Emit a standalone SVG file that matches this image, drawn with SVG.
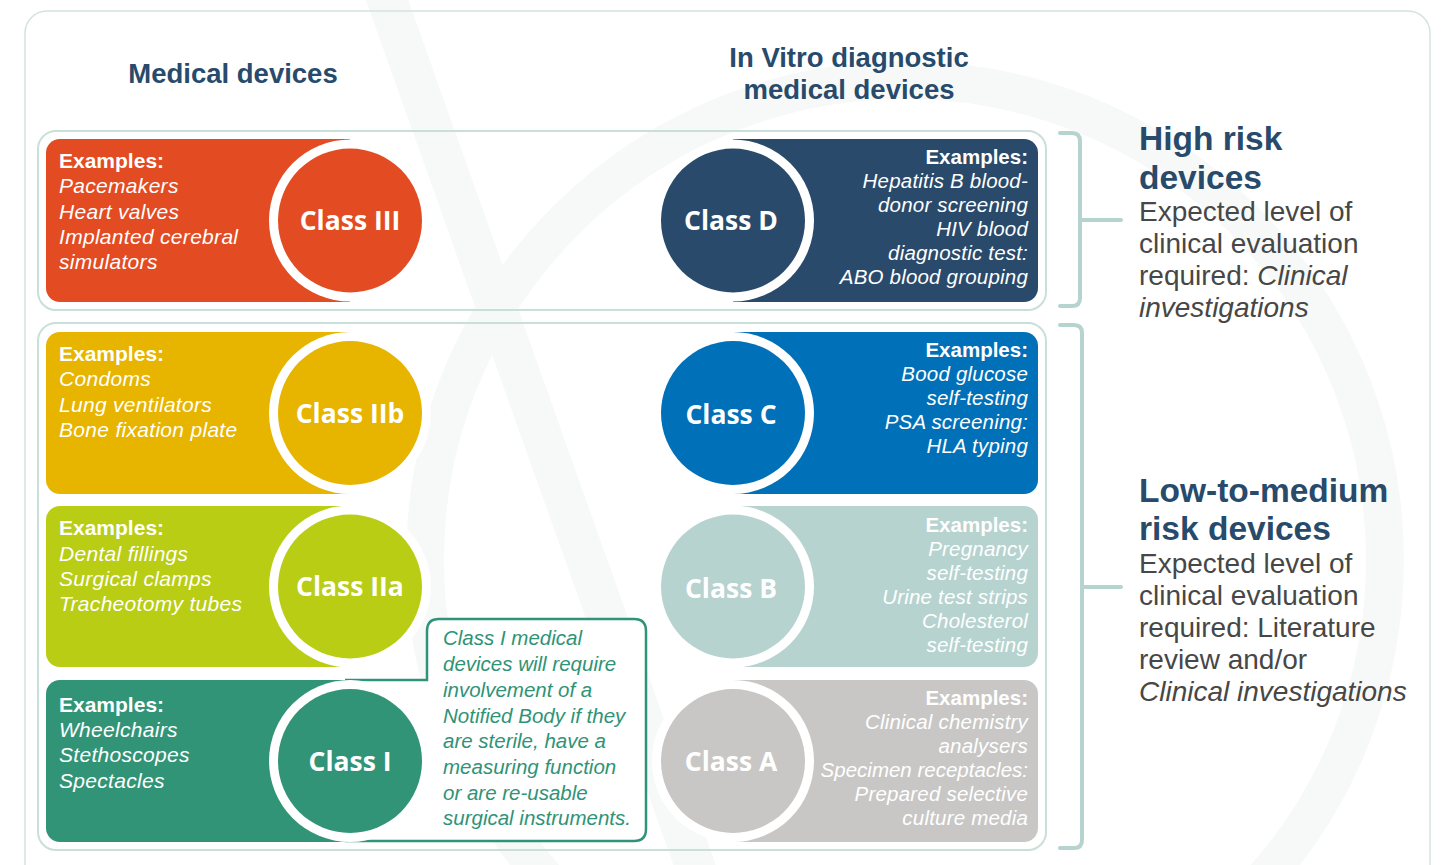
<svg xmlns="http://www.w3.org/2000/svg" width="1442" height="865" viewBox="0 0 1442 865">
<style>
.hdr{font-family:"Liberation Sans",Arial,sans-serif;font-weight:700;fill:#284a6b;font-size:27.5px}
.big{font-family:"Liberation Sans",Arial,sans-serif;font-weight:700;fill:#284a6b;font-size:33.5px}
.desc{font-family:"Liberation Sans",Arial,sans-serif;fill:#474747;font-size:28px}
.it{font-style:italic}
.ex{font-family:"Liberation Sans",Arial,sans-serif;fill:#ffffff;font-size:21px;letter-spacing:0.3px}
.exr{font-family:"Liberation Sans",Arial,sans-serif;fill:#ffffff;font-size:20.5px;letter-spacing:0.2px;text-anchor:end}
.exb{font-weight:700;letter-spacing:0}
.exi{font-style:italic}
.ls0{letter-spacing:0}
.cls{font-family:"Open Sans","Liberation Sans",sans-serif;font-weight:700;fill:#ffffff;font-size:26.5px;text-anchor:middle}
.ring{fill:#ffffff}
.grp{fill:none;stroke:#c9dfda;stroke-width:2}
.brk{fill:none;stroke:#b7d3cf;stroke-width:4;stroke-linecap:round;stroke-linejoin:round}
.note{font-family:"Liberation Sans",Arial,sans-serif;font-style:italic;fill:#2f9377;font-size:20.5px}
.wm{fill:none;stroke:#f7f9f8}
</style>
<rect x="0" y="0" width="1442" height="865" fill="#ffffff"/>
<g id="watermark">
<path class="wm" d="M380 -20 L700 880" stroke-width="40"/>
<circle class="wm" cx="905" cy="560" r="480" stroke-width="38"/>
</g>
<rect x="25" y="11" width="1405" height="880" rx="22" fill="none" stroke="#d3e3de" stroke-width="1.5"/>
<g id="headers">
<text class="hdr" x="233" y="83" text-anchor="middle">Medical devices</text>
<text class="hdr" x="849" y="67" text-anchor="middle">In Vitro diagnostic</text>
<text class="hdr" x="849" y="99" text-anchor="middle">medical devices</text>
</g>
<g id="groups">
<rect class="grp" x="38" y="131" width="1008" height="179" rx="18"/>
<rect class="grp" x="38" y="323" width="1008" height="527" rx="18"/>
</g>
<g id="connectors">
<path class="brk" d="M1060 133 H1072 Q1080 133 1080 141 V298 Q1080 306 1072 306 H1060 M1080 220 H1121"/>
<path class="brk" d="M1060 325 H1074 Q1082 325 1082 333 V840 Q1082 848 1074 848 H1060 M1082 587 H1121"/>
</g>
<g id="callout">
<path d="M345 680 H427 V631 Q427 619 439 619 H634 Q646 619 646 631 V829 Q646 841 634 841 H345" fill="#ffffff" stroke="#2f9377" stroke-width="2.5"/>
<text class="note"><tspan x="443" y="645">Class I medical</tspan><tspan x="443" y="671">devices will require</tspan><tspan x="443" y="697">involvement of a</tspan><tspan x="443" y="723">Notified Body if they</tspan><tspan x="443" y="748">are sterile, have a</tspan><tspan x="443" y="774">measuring function</tspan><tspan x="443" y="800">or are re-usable</tspan><tspan x="443" y="825">surgical instruments.</tspan></text>
</g>
<g id="class-iii">
<path d="M60 139 H350 V302 H60 A14 14 0 0 1 46 288 V153 A14 14 0 0 1 60 139 Z" fill="#e34b22"/>
<circle class="ring" cx="350" cy="220.5" r="81"/>
<circle cx="350" cy="220.5" r="72" fill="#e34b22"/>
<text class="cls" x="350" y="230">Class III</text>
<text class="ex"><tspan x="59" y="168" class="exb">Examples:</tspan><tspan x="59" y="193" class="exi">Pacemakers</tspan><tspan x="59" y="219" class="exi">Heart valves</tspan><tspan x="59" y="244" class="exi">Implanted cerebral</tspan><tspan x="59" y="269" class="exi">simulators</tspan></text>
</g>
<g id="class-iib">
<path d="M60 332 H350 V494 H60 A14 14 0 0 1 46 480 V346 A14 14 0 0 1 60 332 Z" fill="#e7b400"/>
<circle class="ring" cx="350" cy="413" r="81"/>
<circle cx="350" cy="413" r="72" fill="#e7b400"/>
<text class="cls" x="350" y="422.5">Class IIb</text>
<text class="ex"><tspan x="59" y="361" class="exb">Examples:</tspan><tspan x="59" y="386" class="exi">Condoms</tspan><tspan x="59" y="412" class="exi">Lung ventilators</tspan><tspan x="59" y="437" class="exi">Bone fixation plate</tspan></text>
</g>
<g id="class-iia">
<path d="M60 506 H350 V667 H60 A14 14 0 0 1 46 653 V520 A14 14 0 0 1 60 506 Z" fill="#b8cd14"/>
<circle class="ring" cx="350" cy="586.5" r="81"/>
<circle cx="350" cy="586.5" r="72" fill="#b8cd14"/>
<text class="cls" x="350" y="596">Class IIa</text>
<text class="ex"><tspan x="59" y="535" class="exb">Examples:</tspan><tspan x="59" y="561" class="exi">Dental fillings</tspan><tspan x="59" y="586" class="exi">Surgical clamps</tspan><tspan x="59" y="611" class="exi">Tracheotomy tubes</tspan></text>
</g>
<g id="class-i">
<path d="M60 680 H350 V842 H60 A14 14 0 0 1 46 828 V694 A14 14 0 0 1 60 680 Z" fill="#329477"/>
<circle class="ring" cx="350" cy="761" r="81"/>
<circle cx="350" cy="761" r="72" fill="#329477"/>
<text class="cls" x="350" y="770.5">Class I</text>
<text class="ex"><tspan x="59" y="712" class="exb">Examples:</tspan><tspan x="59" y="737" class="exi">Wheelchairs</tspan><tspan x="59" y="762" class="exi">Stethoscopes</tspan><tspan x="59" y="788" class="exi">Spectacles</tspan></text>
</g>
<g id="class-d">
<path d="M733 139 H1024 A14 14 0 0 1 1038 153 V288 A14 14 0 0 1 1024 302 H733 Z" fill="#294a6b"/>
<circle class="ring" cx="733" cy="220.5" r="81"/>
<circle cx="733" cy="220.5" r="72" fill="#294a6b"/>
<text class="cls" x="731" y="230">Class D</text>
<text class="exr"><tspan x="1028" y="164" class="exb">Examples:</tspan><tspan x="1028" y="188" class="exi">Hepatitis B blood-</tspan><tspan x="1028" y="212" class="exi">donor screening</tspan><tspan x="1028" y="236" class="exi">HIV blood</tspan><tspan x="1028" y="260" class="exi">diagnostic test:</tspan><tspan x="1028" y="284" class="exi">ABO blood grouping</tspan></text>
</g>
<g id="class-c">
<path d="M733 332 H1024 A14 14 0 0 1 1038 346 V480 A14 14 0 0 1 1024 494 H733 Z" fill="#0070b8"/>
<circle class="ring" cx="733" cy="413" r="81"/>
<circle cx="733" cy="413" r="72" fill="#0070b8"/>
<text class="cls" x="731" y="423.5">Class C</text>
<text class="exr"><tspan x="1028" y="357" class="exb">Examples:</tspan><tspan x="1028" y="381" class="exi">Bood glucose</tspan><tspan x="1028" y="405" class="exi">self-testing</tspan><tspan x="1028" y="429" class="exi">PSA screening:</tspan><tspan x="1028" y="453" class="exi">HLA typing</tspan></text>
</g>
<g id="class-b">
<path d="M733 506 H1024 A14 14 0 0 1 1038 520 V653 A14 14 0 0 1 1024 667 H733 Z" fill="#b7d3cf"/>
<circle class="ring" cx="733" cy="586.5" r="81"/>
<circle cx="733" cy="586.5" r="72" fill="#b7d3cf"/>
<text class="cls" x="731" y="598">Class B</text>
<text class="exr"><tspan x="1028" y="532" class="exb">Examples:</tspan><tspan x="1028" y="556" class="exi">Pregnancy</tspan><tspan x="1028" y="580" class="exi">self-testing</tspan><tspan x="1028" y="604" class="exi">Urine test strips</tspan><tspan x="1028" y="628" class="exi">Cholesterol</tspan><tspan x="1028" y="652" class="exi">self-testing</tspan></text>
</g>
<g id="class-a">
<path d="M733 680 H1024 A14 14 0 0 1 1038 694 V828 A14 14 0 0 1 1024 842 H733 Z" fill="#c8c7c6"/>
<circle class="ring" cx="733" cy="761" r="81"/>
<circle cx="733" cy="761" r="72" fill="#c8c7c6"/>
<text class="cls" x="731" y="771">Class A</text>
<text class="exr"><tspan x="1028" y="705" class="exb">Examples:</tspan><tspan x="1028" y="729" class="exi">Clinical chemistry</tspan><tspan x="1028" y="753" class="exi">analysers</tspan><tspan x="1028" y="777" class="exi ls0">Specimen receptacles:</tspan><tspan x="1028" y="801" class="exi">Prepared selective</tspan><tspan x="1028" y="825" class="exi">culture media</tspan></text>
</g>
<g id="high-risk">
<text class="big" x="1139" y="150">High risk</text>
<text class="big" x="1139" y="189">devices</text>
<text class="desc"><tspan x="1139" y="221">Expected level of</tspan><tspan x="1139" y="253">clinical evaluation</tspan><tspan x="1139" y="285">required: <tspan class="it">Clinical</tspan></tspan><tspan x="1139" y="317" class="it">investigations</tspan></text>
</g>
<g id="low-risk">
<text class="big" x="1139" y="502">Low-to-medium</text>
<text class="big" x="1139" y="540">risk devices</text>
<text class="desc"><tspan x="1139" y="573">Expected level of</tspan><tspan x="1139" y="605">clinical evaluation</tspan><tspan x="1139" y="637">required: Literature</tspan><tspan x="1139" y="669">review and/or</tspan><tspan x="1139" y="701" class="it">Clinical investigations</tspan></text>
</g>
</svg>
